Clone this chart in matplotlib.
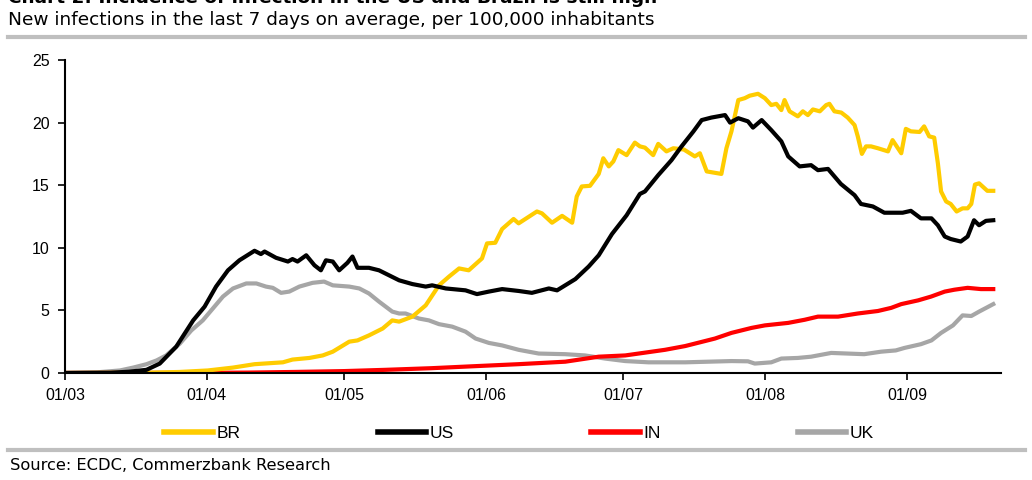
import pandas as pd
import matplotlib.pyplot as plt
import matplotlib.dates as mdates
from matplotlib.lines import Line2D

# days since 01/03/2020 and values (per 100,000, 7-day avg)
us_days = [0, 10, 14, 17.8, 20.7, 24.3, 28, 30.5, 33, 35.6, 38.1, 41.4, 42.8, 43.6, 46.1, 48.7, 49.7, 50.8,
           52.7, 54.5, 55.9, 57, 58.5, 59.9, 61.7, 62.8, 63.9, 66.4, 68.6, 70.8, 73, 75.9, 78.8, 80.2,
           83.2, 87.5, 90, 92.6, 95.5, 99.1, 102, 105.7, 107.5, 111.5, 114.4, 116.6, 119.5, 122.7, 125.6,
           126.7, 129.6, 132.5, 134.7, 137.3, 139.1, 141.2, 144.2, 145.3, 147.1, 149.2, 150.3, 152.2,
           154.3, 156.5, 158, 160.5, 163, 164.5, 166.7, 169.5, 172.5, 173.9, 176.5, 179, 183, 184.8, 187,
           189.3, 190.7, 192.2, 193.5, 195.7, 197.2, 198.6, 199.7, 201.2, 202.8]
us_vals = [0, 0.02, 0.1, 0.25, 0.75, 2.1, 4.2, 5.3, 6.9, 8.2, 9.0, 9.76, 9.5, 9.7, 9.2, 8.9, 9.1, 8.9,
           9.4, 8.6, 8.2, 9.0, 8.9, 8.2, 8.8, 9.3, 8.4, 8.4, 8.2, 7.8, 7.4, 7.1, 6.9, 7.0,
           6.75, 6.6, 6.3, 6.5, 6.7, 6.55, 6.4, 6.75, 6.6, 7.5, 8.5, 9.4, 11.1, 12.6, 14.3,
           14.5, 15.8, 17.0, 18.1, 19.3, 20.2, 20.4, 20.6, 20.0, 20.35, 20.1, 19.6, 20.2,
           19.4, 18.5, 17.3, 16.5, 16.6, 16.2, 16.3, 15.1, 14.2, 13.5, 13.3, 12.8, 12.8, 12.95, 12.35,
           12.35, 11.8, 10.9, 10.7, 10.5, 10.9, 12.2, 11.8, 12.15, 12.2]

br_days = [0, 18, 25, 31.2, 36.7, 41.4, 47.6, 49.7, 53.4, 56.3, 58.5, 62.1, 63.9, 66.4, 69.4, 71.5, 73,
           75.9, 78.8, 81.7, 83.9, 86.1, 88.2, 91.1, 92.2, 94, 95.5, 98, 99.1, 103.1, 104.2, 106.4,
           108.6, 110.8, 111.8, 112.9, 114.7, 116.6, 117.6, 118.8, 119.8, 120.9, 122.7, 124.5, 125.6,
           126.7, 128.5, 129.6, 131.4, 132.9, 135.2, 137.6, 138.7, 140.2, 143.4, 144.5, 145.6, 147.1,
           148.5, 149.6, 151.4, 152.9, 154.3, 155.4, 156.5, 157.2, 158.3, 160.1, 161.2, 162.3, 163.4,
           164.9, 166.3, 167, 168.1, 169.6, 171, 172.5, 173.2, 174.1, 175, 176.1, 177.6, 179.8, 180.8,
           182.7, 183.7, 184.8, 186.7, 187.7, 188.8, 189.9, 190.7, 191.4, 192.5, 193.5, 194.8, 196.1,
           197.2, 198, 198.8, 199.7, 201.5, 202.8]
br_vals = [0, 0.02, 0.08, 0.2, 0.43, 0.7, 0.85, 1.07, 1.2, 1.4, 1.7, 2.5, 2.6, 3.0, 3.55, 4.2, 4.1,
           4.5, 5.4, 7.0, 7.7, 8.35, 8.2, 9.15, 10.35, 10.4, 11.5, 12.3, 11.95, 12.9, 12.75, 12.0,
           12.55, 12.0, 14.1, 14.9, 14.95, 15.9, 17.15, 16.5, 16.9, 17.8, 17.4, 18.4, 18.1,
           18.0, 17.4, 18.3, 17.7, 17.95, 17.85, 17.3, 17.55, 16.1, 15.9, 17.95, 19.3, 21.8,
           21.95, 22.15, 22.3, 21.95, 21.4, 21.5, 21.0, 21.8, 20.9, 20.5, 20.9, 20.6, 21.05,
           20.9, 21.4, 21.5, 20.9, 20.8, 20.4, 19.8, 18.9, 17.5, 18.1, 18.1, 17.95, 17.7, 18.6,
           17.55, 19.5, 19.3, 19.25, 19.7, 18.9, 18.8, 16.75, 14.5, 13.7, 13.5, 12.9, 13.15,
           13.15, 13.5, 15.05, 15.15, 14.55, 14.55]

in_days = [0, 30, 40, 50, 61, 70, 80, 90, 99, 109.3, 116.6, 122.4, 131.1, 135.5, 142, 145.6, 150, 152.9,
           158, 161.6, 164.5, 168.9, 173.2, 177.6, 180.5, 182.7, 186.4, 189.2, 192.2, 194.3, 197.2,
           200.1, 202.8]
in_vals = [0, 0.01, 0.03, 0.08, 0.15, 0.25, 0.38, 0.55, 0.7, 0.9, 1.3, 1.4, 1.85, 2.15, 2.75, 3.2, 3.6, 3.8,
           4.0, 4.25, 4.5, 4.5, 4.75, 4.95, 5.2, 5.5, 5.8, 6.1, 6.5, 6.65, 6.8,
           6.7, 6.7]

uk_days = [0, 7, 12, 14.9, 17.8, 20, 22.1, 25.1, 27.6, 30.1, 32.3, 34.5, 36.7, 39.6, 41.8, 43.9, 45.4,
           47.2, 49, 51.2, 54.1, 56.6, 58.5, 62.1, 64.3, 66.4, 68.6, 71.5, 73, 74.4, 77.3, 79.5, 81.7,
           84.6, 87.5, 89.7, 92.6, 95.5, 99.1, 103.5, 109.3, 113.6, 118, 122.4, 127.5, 135.5, 145.6,
           149.2, 150.7, 154.3, 156.5, 160.1, 163, 167.4, 171, 174.6, 178.3, 181.5, 183.4, 187, 189.3,
           191.4, 194, 196.1, 198, 199.7, 202.8]
uk_vals = [0, 0.05, 0.2, 0.43, 0.7, 1.0, 1.4, 2.35, 3.4, 4.2, 5.15, 6.1, 6.75, 7.15, 7.15, 6.9, 6.8,
           6.4, 6.5, 6.9, 7.2, 7.3, 7.0, 6.9, 6.75, 6.35, 5.7, 4.9, 4.75, 4.75, 4.35, 4.2, 3.9,
           3.7, 3.3, 2.75, 2.4, 2.2, 1.85, 1.55, 1.5, 1.4, 1.15, 0.95, 0.85, 0.85, 0.95,
           0.93, 0.75, 0.85, 1.15, 1.2, 1.3, 1.6, 1.55, 1.5, 1.7, 1.8, 2.0, 2.3, 2.6,
           3.2, 3.8, 4.6, 4.55, 4.9, 5.5]

series = [("BR", br_days, br_vals, "#FFCC00"),
          ("US", us_days, us_vals, "#000000"),
          ("IN", in_days, in_vals, "#FF0000"),
          ("UK", uk_days, uk_vals, "#A6A6A6")]

start = pd.Timestamp("2020-03-01")


def to_dates(days):
    return [start + pd.Timedelta(hours=d * 24) for d in days]


fig = plt.figure(figsize=(10.32, 4.8), dpi=100)
ax = fig.add_axes([0.063, 0.223, 0.907, 0.652])

# draw UK first so the other lines sit on top like the original
for name, d, v, c in [series[3], series[2], series[0], series[1]]:
    ax.plot(to_dates(d), v, color=c, lw=3, solid_joinstyle="round")

ax.set_ylim(0, 25)
ax.set_yticks([0, 5, 10, 15, 20, 25])
ax.set_xlim(start, start + pd.Timedelta(days=204.5))
ax.xaxis.set_major_locator(mdates.MonthLocator())
ax.xaxis.set_major_formatter(mdates.DateFormatter("%d/%m"))

for s in ["top", "right"]:
    ax.spines[s].set_visible(False)
for s in ["left", "bottom"]:
    ax.spines[s].set_linewidth(1.5)
ax.tick_params(axis="both", direction="out", length=5, width=1.2,
               labelsize=11.5, pad=6)
for lab in ax.get_xticklabels() + ax.get_yticklabels():
    lab.set_family("Liberation Sans")

# legend along the bottom
handles = [Line2D([], [], color=c, lw=4) for _, _, _, c in series]
leg = fig.legend(handles, [s[0] for s in series], loc="center",
                 bbox_to_anchor=(0.503, 1 - 433 / 480), ncol=4, frameon=False,
                 handlelength=2.8, handletextpad=0.2, columnspacing=7.9,
                 prop={"family": "Liberation Sans", "size": 12.5})

# header / footer (title is cropped at the top edge, as in the source image)
fig.text(0.008, 1 - 3 / 480, "Chart 2: Incidence of infection in the US and Brazil is still high",
         fontsize=13.3, fontweight="bold", family="DejaVu Sans", va="baseline")
fig.text(0.008, 1 - 20 / 480, "New infections in the last 7 days on average, per 100,000 inhabitants",
         fontsize=13.3, family="DejaVu Sans", va="center")
fig.add_artist(Line2D([0.008, 0.993], [1 - 37 / 480, 1 - 37 / 480], color="#BFBFBF", lw=3))
fig.add_artist(Line2D([0.008, 0.993], [1 - 450 / 480, 1 - 450 / 480], color="#BFBFBF", lw=3))
fig.text(0.01, 1 - 465 / 480, "Source: ECDC, Commerzbank Research",
         fontsize=11.7, family="DejaVu Sans", va="center")

fig.savefig("out.png", dpi=100)
